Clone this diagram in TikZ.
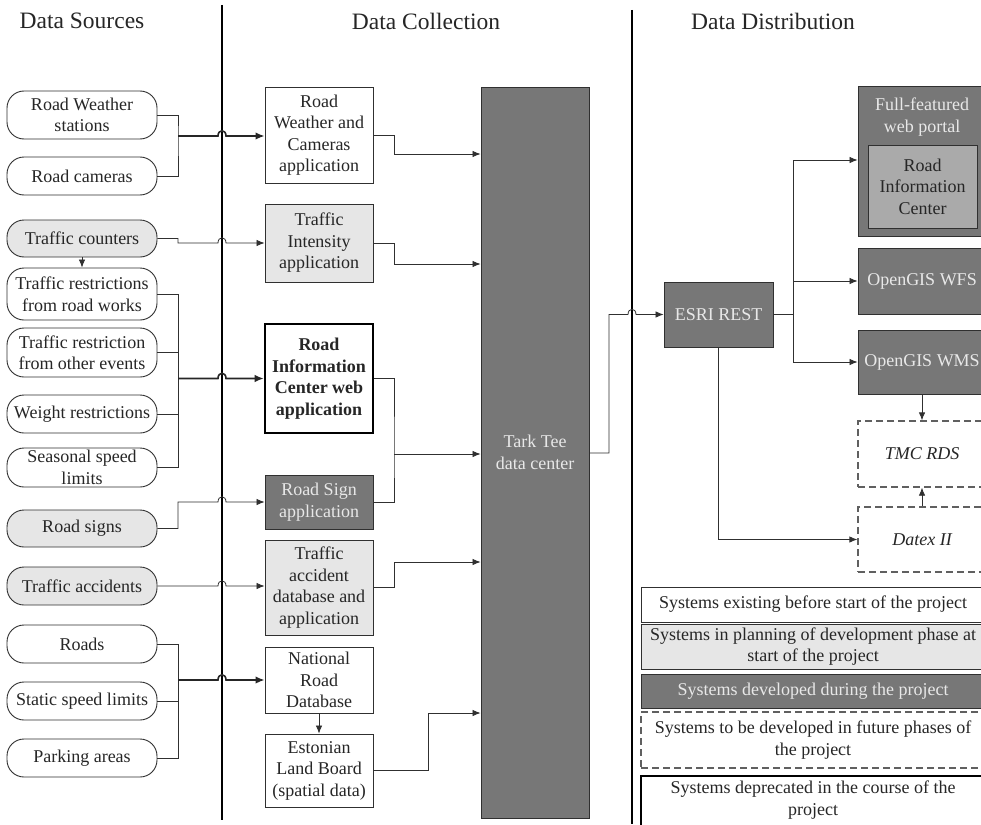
\documentclass[tikz,border=0pt]{standalone}
\usepackage{fontspec}
\setmainfont{Liberation Serif}
\usetikzlibrary{arrows.meta}
\definecolor{darkbox}{HTML}{777777}
\definecolor{lightbox}{HTML}{E6E6E6}
\definecolor{midbox}{HTML}{AAAAAA}
\definecolor{edge}{HTML}{303030}
\definecolor{paletext}{HTML}{E8E8E8}
\definecolor{dashedge}{HTML}{606060}

\begin{document}
\begin{tikzpicture}[x=1pt,y=-1pt,
  every node/.style={font=\fontsize{18}{21.5}\selectfont, inner sep=0pt, align=center, text=black!85},
  head/.style={font=\fontsize{23.5}{27}\selectfont},
  src/.style={draw=edge, line width=0.9pt, rounded corners=17pt, fill=white, minimum width=150pt},
  srcg/.style={src, fill=lightbox},
  app/.style={draw=edge, line width=0.9pt, fill=white, minimum width=108pt},
  appg/.style={app, fill=lightbox},
  appd/.style={app, fill=darkbox, text=paletext},
  appb/.style={app, draw=black, line width=2.6pt, font=\fontsize{18}{21.5}\selectfont\bfseries},
  future/.style={app, draw=dashedge, line width=1.3pt, dash pattern=on 7pt off 4pt, font=\fontsize{18}{21.5}\selectfont\itshape},
  conn/.style={draw=edge, line width=0.8pt},
  arr/.style={conn, -{Latex[length=8pt,width=6.5pt]}},
  bus/.style={draw=black!85, line width=1.6pt, -{Latex[length=9pt,width=7.5pt]}},
  sep/.style={draw=black, line width=1.3pt}
]
\useasboundingbox (0,0) rectangle (981,824);
\clip (0,0) rectangle (981,824);
\fill[white] (0,0) rectangle (981,824);

% column headings and separators
\node[head] (hsrc) at (82,21) {Data Sources};
\node[head] (hcol) at (426,21) {Data Collection};
\node[head] (hdis) at (773,21) {Data Distribution};
\draw[sep] (222,5) -- (222,820);
\draw[sep] (632,10) -- (632,824);

% helper points: junction bus and line hops
\coordinate (bx) at (178,0);
\coordinate (hl) at (218,0);
\coordinate (hr) at (226,0);
\coordinate (hl2) at (628,0);
\coordinate (hr2) at (636,0);

% data sources
\node[src,  minimum height=48pt] (rws)  at (82,115)   {Road Weather\\stations};
\node[src,  minimum height=38pt] (rcam) at (82,176)   {Road cameras};
\node[srcg, minimum height=37pt] (tcnt) at (82,238.5) {Traffic counters};
\node[src,  minimum height=52pt] (trw)  at (82,294)   {Traffic restrictions\\from road works};
\node[src,  minimum height=49pt] (toe)  at (82,352.5) {Traffic restriction\\from other events};
\node[src,  minimum height=38pt] (wr)   at (82,414)   {Weight restrictions};
\node[src,  minimum height=39pt] (ssl)  at (82,467.5) {Seasonal speed\\limits};
\node[srcg, minimum height=37pt] (rsg)  at (82,528.5) {Road signs};
\node[srcg, minimum height=38pt] (tacc) at (82,586)   {Traffic accidents};
\node[src,  minimum height=38pt] (roads) at (82,644)  {Roads};
\node[src,  minimum height=38pt] (stsl) at (82,701)   {Static speed limits};
\node[src,  minimum height=38pt] (park) at (82,758)   {Parking areas};

% data collection applications
\node[app,  minimum height=96pt]  (rwc)   at (319,135)   {Road\\Weather and\\Cameras\\application};
\node[appg, minimum height=78pt]  (tint)  at (319,243)   {Traffic\\Intensity\\application};
\node[appb, minimum height=109pt] (ricw)  at (319,378.5) {Road\\Information\\Center web\\application};
\node[appd, minimum height=54pt]  (rsapp) at (319,502)   {Road Sign\\application};
\node[appg, minimum height=95pt]  (tadb)  at (319,587.5) {Traffic\\accident\\database and\\application};
\node[app,  minimum height=66pt]  (nrd)   at (319,680)   {National\\Road\\Database};
\node[app,  minimum height=73pt]  (elb)   at (319,770.5) {Estonian\\Land Board\\(spatial data)};

% data center
\node[appd, minimum width=108pt, minimum height=731pt, text=paletext] (ttdc) at (535,452.5) {Tark Tee\\data center};

% data distribution
\node[appd, minimum width=109pt, minimum height=65pt] (esri) at (718.5,314.5) {ESRI REST};
\node[appd, minimum width=128pt, minimum height=150pt] (portal) at (922,161) {};
\node[text=paletext] (portaltxt) at (922,117) {Full-featured\\web portal};
\node[app, fill=midbox, minimum width=109pt, minimum height=83pt] (ric) at (922.5,186.5) {Road\\Information\\Center};
\node[appd, minimum width=128pt, minimum height=66pt] (wfs) at (922,281) {OpenGIS WFS};
\node[appd, minimum width=128pt, minimum height=64pt] (wms) at (922,362) {OpenGIS WMS};
\node[future, minimum width=128pt, minimum height=66pt] (tmc) at (922,454) {TMC RDS};
\node[future, minimum width=128pt, minimum height=65pt] (datex) at (922,539.5) {Datex II};

% legend
\node[app,  minimum width=344pt, minimum height=35pt] (lg1) at (813,604.5) {Systems existing before start of the project};
\node[appg, minimum width=344pt, minimum height=45pt] (lg2) at (813,646.5) {Systems in planning of development phase at\\start of the project};
\node[appd, minimum width=344pt, minimum height=34pt] (lg3) at (813,691) {Systems developed during the project};
\node[future, minimum width=344pt, minimum height=56pt, font=\fontsize{18}{21.5}\selectfont] (lg4) at (813,740) {Systems to be developed in future phases of\\the project};
\node[appb, minimum width=344pt, minimum height=64pt] (lg5) at (813,808) {};
\node (lg5txt) at (813,800) {Systems deprecated in the course of the\\project};

% sources -> applications
\coordinate (j1) at (178,136);
\draw[conn] (rws.east) -| (j1) |- (rcam.east);
\draw[bus] (j1) -- (j1 -| hl) .. controls +(0,-7) and +(0,-7) .. (j1 -| hr) -- (rwc.west |- j1);

\coordinate (j2) at (178,243);
\draw[arr] (tcnt.east) -| (j2) -- (j2 -| hl) .. controls +(0,-7) and +(0,-7) .. (j2 -| hr) -- (tint.west |- j2);
\draw[arr] (tcnt.south) -- (trw.north);

\coordinate (j3) at (178,378.5);
\coordinate (j3b) at (178,467.5);
\draw[conn] (trw.east) -| (j3b) |- (ssl.east);
\draw[conn] (toe.east) -- (toe.east -| bx);
\draw[conn] (wr.east) -- (wr.east -| bx);
\draw[bus] (j3) -- (j3 -| hl) .. controls +(0,-7) and +(0,-7) .. (j3 -| hr) -- (ricw.west |- j3);

\coordinate (j4) at (178,502);
\draw[arr] (rsg.east) -| (j4) -- (j4 -| hl) .. controls +(0,-7) and +(0,-7) .. (j4 -| hr) -- (rsapp.west |- j4);

\draw[arr] (tacc.east) -- (tacc.east -| hl) .. controls +(0,-7) and +(0,-7) .. (tacc.east -| hr) -- (tadb.west |- tacc.east);

\coordinate (j5) at (178,680);
\coordinate (j5b) at (178,758);
\draw[conn] (roads.east) -| (j5b) |- (park.east);
\draw[conn] (stsl.east) -- (stsl.east -| bx);
\draw[bus] (j5) -- (j5 -| hl) .. controls +(0,-7) and +(0,-7) .. (j5 -| hr) -- (nrd.west |- j5);

\draw[arr] (nrd.south) -- (elb.north);

% applications -> data center
\coordinate (m1) at (394,154);
\coordinate (m2) at (394,264);
\coordinate (m3) at (394,454);
\coordinate (m4) at (394,562);
\coordinate (m5) at (428,713);
\draw[arr] (rwc.east) -| (m1) -- (ttdc.west |- m1);
\draw[arr] (tint.east) -| (m2) -- (ttdc.west |- m2);
\draw[conn] (ricw.east) -| (m3) |- (rsapp.east);
\draw[arr] (m3) -- (ttdc.west |- m3);
\draw[arr] (tadb.east) -| (m4) -- (ttdc.west |- m4);
\draw[arr] (elb.east) -| (m5) -- (ttdc.west |- m5);

% data center -> distribution
\coordinate (t1) at (609,453);
\coordinate (t2) at (609,314.5);
\draw[arr] (ttdc.east |- t1) -- (t1) -- (t2) -- (t2 -| hl2) .. controls +(0,-7) and +(0,-7) .. (t2 -| hr2) -- (esri.west |- t2);

\coordinate (e2) at (793,160);
\coordinate (e3) at (793,362);
\draw[arr] (esri.east) -| (e2) -- (portal.west |- e2);
\draw[arr] (esri.east) -| (e3) -- (wms.west |- e3);
\draw[arr] (e2 |- wfs.west) -- (wfs.west);
\draw[arr] (esri.south) |- (datex.west);
\draw[arr] (wms.south) -- (tmc.north);
\draw[arr] (datex.north) -- (tmc.south);
\end{tikzpicture}
\end{document}
